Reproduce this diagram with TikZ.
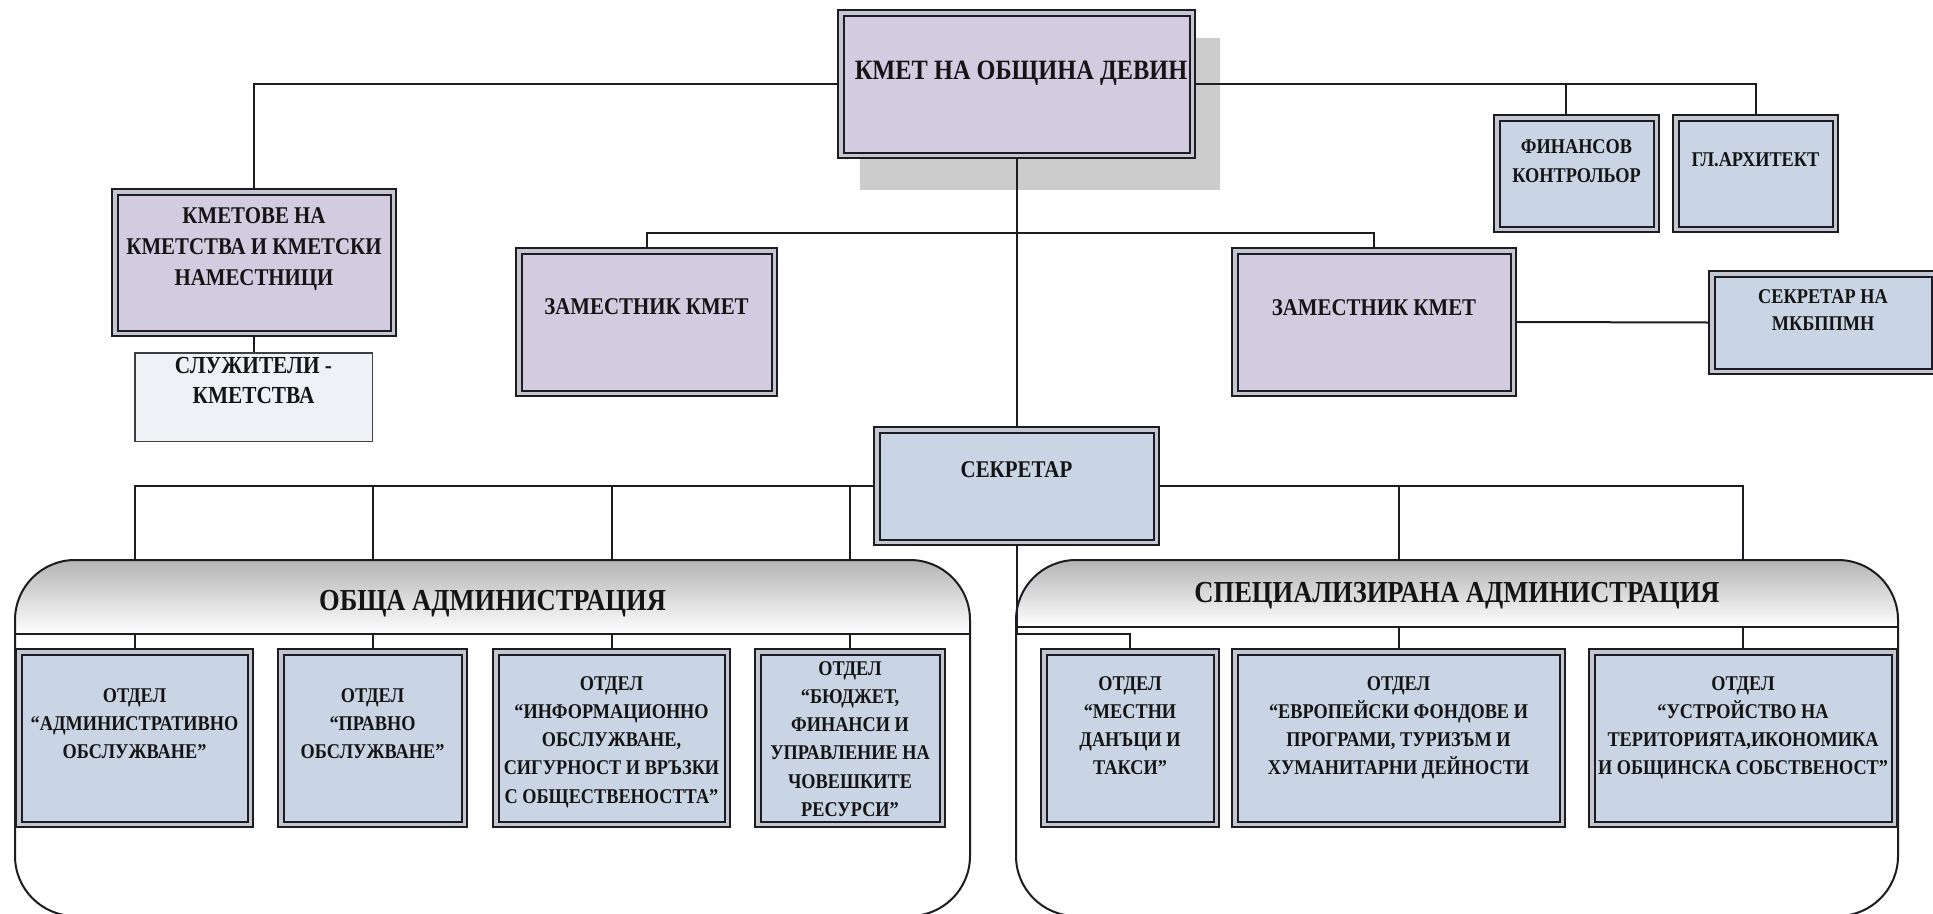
\documentclass[tikz,border=0pt]{standalone}
\usepackage{fontspec}
\setmainfont{Liberation Serif}[FakeStretch=0.87]
\definecolor{purp}{RGB}{211,203,224}
\definecolor{blu}{RGB}{201,213,228}
\definecolor{gapc}{RGB}{196,198,210}
\definecolor{edgec}{RGB}{28,28,34}
\definecolor{shadowc}{RGB}{204,204,204}
\definecolor{lightc}{RGB}{238,241,246}
\definecolor{hdtop}{RGB}{180,180,180}
\newcommand{\ml}[1]{\begin{tabular}[t]{@{}c@{}}#1\end{tabular}}
\tikzset{
  dbox/.style={rectangle, draw=edgec, line width=2pt, double=gapc, double distance=3.5pt, inner sep=0pt, outer sep=3.75pt},
  pbox/.style={dbox, fill=purp},
  bbox/.style={dbox, fill=blu},
  lbox/.style={rectangle, draw=edgec!85, line width=1.5pt, fill=lightc, inner sep=0pt, outer sep=0.75pt},
  conn/.style={draw=edgec, line width=2pt},
  cont/.style={draw=edgec, line width=2pt, rounded corners=60pt},
  txt/.style={inner sep=0pt, anchor=base, text=black!92},
  fa/.style={font=\bfseries\fontsize{21}{28.3}\selectfont},
  fb/.style={font=\bfseries\fontsize{24}{31}\selectfont},
  fe/.style={font=\bfseries\fontsize{24}{30}\selectfont},
  fc/.style={font=\bfseries\fontsize{24}{30}\selectfont},
  fk/.style={font=\bfseries\fontsize{28}{32}\selectfont},
  fh/.style={font=\bfseries\fontsize{30.5}{36}\selectfont},
  fs/.style={font=\bfseries\fontsize{24.5}{30}\selectfont},
  fm/.style={font=\bfseries\fontsize{21}{27}\selectfont},
  ff/.style={font=\bfseries\fontsize{21}{29}\selectfont},
}
\begin{document}
\begin{tikzpicture}[x=1pt,y=-1pt]
\fill[white] (0,0) rectangle (1933,913);
\useasboundingbox (0,0) rectangle (1933,913);

% containers
\begin{scope}
  \clip[rounded corners=60pt] (15,560) rectangle (970,916);
  \shade[top color=hdtop, bottom color=white] (15,560) rectangle (970,634);
\end{scope}
\begin{scope}
  \clip[rounded corners=60pt] (1016,560) rectangle (1898,916);
  \shade[top color=hdtop, bottom color=white] (1016,560) rectangle (1898,627);
\end{scope}
\draw[cont] (15,560) rectangle (970,916);
\draw[cont] (1016,560) rectangle (1898,916);
\coordinate (Ltop) at (15,560);
\coordinate (Lsep) at (15,634);
\coordinate (Lsepr) at (970,634);
\coordinate (Rtop) at (1016,560);
\coordinate (Rsep) at (1016,627);
\coordinate (Rsepr) at (1898,627);
\draw[conn] (Lsep) -- (Lsepr);
\draw[conn] (Rsep) -- (Rsepr);

% shadow of the mayor box
\fill[shadowc] (860,38) rectangle (1220,190);

% boxes
\node[pbox, minimum width=351.5pt, minimum height=142.5pt] (kmet) at (1016.5,84) {};
\node[pbox, minimum width=278.5pt, minimum height=141.5pt] (kmetove) at (254,262.5) {};
\node[lbox, minimum width=237.5pt, minimum height=88.5pt] (sluzh) at (253.5,397) {};
\node[pbox, minimum width=255.5pt, minimum height=142.5pt] (zam1) at (646.5,322) {};
\node[pbox, minimum width=278.5pt, minimum height=142.5pt] (zam2) at (1374,322) {};
\node[bbox, minimum width=159.5pt, minimum height=111.5pt] (fin) at (1576.5,173.5) {};
\node[bbox, minimum width=159.5pt, minimum height=111.5pt] (arh) at (1755.5,173.5) {};
\node[bbox, minimum width=222.5pt, minimum height=97.5pt] (mkb) at (1823,322.5) {};
\node[bbox, minimum width=279.5pt, minimum height=112.5pt] (sek) at (1016.5,486) {};
\node[bbox, minimum width=231.5pt, minimum height=172.5pt] (d1) at (134.5,738) {};
\node[bbox, minimum width=183.5pt, minimum height=172.5pt] (d2) at (372.5,738) {};
\node[bbox, minimum width=231.5pt, minimum height=172.5pt] (d3) at (611.5,738) {};
\node[bbox, minimum width=184.5pt, minimum height=172.5pt] (d4) at (850,738) {};
\node[bbox, minimum width=172.5pt, minimum height=172.5pt] (d5) at (1130,738) {};
\node[bbox, minimum width=327.5pt, minimum height=172.5pt] (d6) at (1398.5,738) {};
\node[bbox, minimum width=302.5pt, minimum height=172.5pt] (d7) at (1743,738) {};

% connectors
\coordinate (zb) at (1016.5,233);
\draw[conn] (kmet.west) -| (kmetove.north);
\draw[conn] (kmet.east) -| (arh.north);
\draw[conn] ([xshift=-11pt]fin.north) |- (kmet.east);
\draw[conn] (kmet.south) -- (sek.north);
\draw[conn] (zam1.north) |- (zb) -| (zam2.north);
\draw[conn] (kmetove.south) -- (kmetove.south |- sluzh.north);
\draw[conn] (zam2.east) -- (mkb.west);
\draw[conn] (sek.west) -| (d1.north |- Ltop);
\draw[conn] (d2.north |- sek.west) -- (d2.north |- Ltop);
\draw[conn] (d3.north |- sek.west) -- (d3.north |- Ltop);
\draw[conn] (d4.north |- sek.west) -- (d4.north |- Ltop);
\draw[conn] (d1.north |- Lsep) -- (d1.north);
\draw[conn] (d2.north |- Lsep) -- (d2.north);
\draw[conn] (d3.north |- Lsep) -- (d3.north);
\draw[conn] (d4.north |- Lsep) -- (d4.north);
\draw[conn] (sek.east) -| (d7.north |- Rtop);
\draw[conn] (d6.north |- sek.east) -- (d6.north |- Rtop);
\draw[conn] (d6.north |- Rsep) -- (d6.north);
\draw[conn] (d7.north |- Rsep) -- (d7.north);
\draw[conn] (sek.south) |- ([yshift=14pt]d5.north) -- (d5.north);

% texts
\node[txt, fk] (tkmet) at (1021,79) {КМЕТ НА ОБЩИНА ДЕВИН};
\node[txt, fb] (tkmetove) at (254,223) {\ml{КМЕТОВЕ НА\\КМЕТСТВА И КМЕТСКИ\\НАМЕСТНИЦИ}};
\node[txt, fs] (tsluzh) at (253.5,373) {\ml{СЛУЖИТЕЛИ -\\КМЕТСТВА}};
\node[txt, fc] (tzam1) at (646.5,314) {ЗАМЕСТНИК КМЕТ};
\node[txt, fc] (tzam2) at (1374,315) {ЗАМЕСТНИК КМЕТ};
\node[txt, ff] (tfin) at (1576.5,153) {\ml{ФИНАНСОВ\\КОНТРОЛЬОР}};
\node[txt, fa] (tarh) at (1755.5,166) {ГЛ.АРХИТЕКТ};
\node[txt, fm] (tmkb) at (1823,303) {\ml{СЕКРЕТАР НА\\МКБППМН}};
\node[txt, fe] (tsek) at (1016.5,477) {СЕКРЕТАР};
\node[txt, fh] (thl) at (492.5,610) {ОБЩА АДМИНИСТРАЦИЯ};
\node[txt, fh] (thr) at (1457,602) {СПЕЦИАЛИЗИРАНА АДМИНИСТРАЦИЯ};
\node[txt, fa] (td1) at (134.5,702) {\ml{ОТДЕЛ\\“АДМИНИСТРАТИВНО\\ОБСЛУЖВАНЕ”}};
\node[txt, fa] (td2) at (372.5,702) {\ml{ОТДЕЛ\\“ПРАВНО\\ОБСЛУЖВАНЕ”}};
\node[txt, fa] (td3) at (611.5,690) {\ml{ОТДЕЛ\\“ИНФОРМАЦИОННО\\ОБСЛУЖВАНЕ,\\СИГУРНОСТ И ВРЪЗКИ\\С ОБЩЕСТВЕНОСТТА”}};
\node[txt, fa] (td4) at (850,675) {\ml{ОТДЕЛ\\“БЮДЖЕТ,\\ФИНАНСИ И\\УПРАВЛЕНИЕ НА\\ЧОВЕШКИТЕ\\РЕСУРСИ”}};
\node[txt, fa] (td5) at (1130,690) {\ml{ОТДЕЛ\\“МЕСТНИ\\ДАНЪЦИ И\\ТАКСИ”}};
\node[txt, fa] (td6) at (1398.5,690) {\ml{ОТДЕЛ\\“ЕВРОПЕЙСКИ ФОНДОВЕ И\\ПРОГРАМИ, ТУРИЗЪМ И\\ХУМАНИТАРНИ ДЕЙНОСТИ}};
\node[txt, fa] (td7) at (1743,690) {\ml{ОТДЕЛ\\“УСТРОЙСТВО НА\\ТЕРИТОРИЯТА,ИКОНОМИКА\\И ОБЩИНСКА СОБСТВЕНОСТ”}};
\end{tikzpicture}
\end{document}
